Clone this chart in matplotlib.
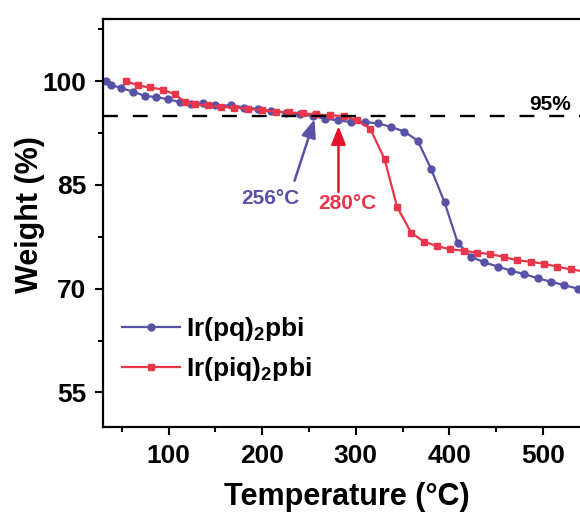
import matplotlib
matplotlib.use("Agg")
import matplotlib.pyplot as plt
from matplotlib.ticker import MultipleLocator

plt.rcParams['font.family'] = ['Liberation Sans', 'DejaVu Sans']
plt.rcParams['font.weight'] = 'bold'
plt.rcParams['mathtext.fontset'] = 'custom'
plt.rcParams['mathtext.rm'] = 'Liberation Sans:bold'
plt.rcParams['mathtext.default'] = 'rm'

# Ir(pq)2pbi
t_pq = [33.4, 38.8, 49.5, 61.9, 74.4, 86.9, 99.3, 111.8, 124.2, 136.7, 149.2, 167.0,
        181.0, 195.5, 209.7, 225.7, 240.0, 254.0, 266.7, 280.9, 295.2, 309.4, 323.6,
        337.9, 352.1, 366.3, 380.6, 394.9, 409.1, 423.4, 437.6, 451.8, 466.1, 480.3,
        494.6, 508.8, 523.0, 537.3]
w_pq = [100.0, 99.5, 99.0, 98.5, 97.9, 97.7, 97.4, 97.0, 96.7, 96.8, 96.5, 96.5,
        96.2, 96.0, 95.7, 95.45, 95.2, 95.0, 94.6, 94.35, 94.1, 94.1, 93.9,
        93.4, 92.7, 91.4, 87.3, 82.5, 76.6, 74.6, 73.8, 73.2, 72.6, 72.1,
        71.5, 71.0, 70.5, 70.0]

# Ir(piq)2pbi
t_piq = [54.8, 67.5, 80.0, 94.0, 106.5, 118.0, 128.0, 142.0, 156.0, 170.0, 185.0,
         200.0, 215.0, 229.0, 243.5, 258.0, 272.0, 288.0, 301.0, 315.5, 330.8, 344.3,
         359.3, 372.8, 387.0, 401.0, 415.5, 430.0, 444.0, 458.0, 472.5, 487.0, 501.0,
         515.0, 529.5, 543.8]
w_piq = [100.0, 99.4, 99.1, 98.8, 98.1, 97.0, 96.7, 96.5, 96.3, 96.2, 96.0,
         95.8, 95.6, 95.5, 95.35, 95.2, 95.05, 95.0, 94.35, 93.15, 88.75, 81.8,
         78.1, 76.8, 76.15, 75.7, 75.5, 75.2, 75.0, 74.6, 74.1, 73.9, 73.6,
         73.2, 72.8, 72.5]

labels = ['Ir(pq)$_2$pbi', 'Ir(piq)$_2$pbi']
blue = '#5852A6'
red = '#E8364B'

fig = plt.figure(figsize=(5.8, 5.12), dpi=100)
ax = fig.add_axes([103 / 580, 85 / 512, 486.7 / 580, 408 / 512])

ax.plot(t_pq, w_pq, '-o', color=blue, lw=1.6, ms=5, label=labels[0])
ax.plot(t_piq, w_piq, '-s', color=red, lw=1.6, ms=5, label=labels[1])
ax.axhline(95, color='black', lw=1.7, dashes=(6.3, 6.3), zorder=5)

ax.set_xlim(30, 550)
ax.set_ylim(50, 109)
ax.set_yticks([55, 70, 85, 100])
ax.set_yticks([62.5, 77.5, 92.5, 107.5], minor=True)
ax.xaxis.set_major_locator(MultipleLocator(100))
ax.xaxis.set_minor_locator(MultipleLocator(50))
ax.tick_params(which='major', length=6, width=1.5, labelsize=19, pad=6)
ax.tick_params(which='minor', length=3.5, width=1.5)
for s in ax.spines.values():
    s.set_linewidth(1.6)

ax.set_xlabel('Temperature (°C)', fontsize=22, fontweight='bold')
ax.set_ylabel('Weight (%)', fontsize=22, fontweight='bold', va='center')
ax.xaxis.set_label_coords(0.5, -0.135)
ax.yaxis.set_label_coords(-0.149, 0.52)

ax.annotate('', xy=(256, 94.5), xytext=(234.6, 85.6),
            arrowprops=dict(arrowstyle='-|>,head_length=0.55,head_width=0.22',
                            color=blue, lw=1.8, mutation_scale=20,
                            shrinkA=0, shrinkB=0))
ax.text(209, 83.0, '256°C', color=blue, fontsize=15, fontweight='bold',
        ha='center', va='center')
ax.annotate('', xy=(281.6, 93.5), xytext=(281.6, 84.0),
            arrowprops=dict(arrowstyle='-|>,head_length=0.55,head_width=0.22',
                            color='#E8102A', lw=1.8, mutation_scale=20,
                            shrinkA=0, shrinkB=0))
ax.text(291, 82.3, '280°C', color=red, fontsize=15, fontweight='bold',
        ha='center', va='center')
ax.text(508, 96.65, '95%', color='black', fontsize=15, fontweight='bold',
        ha='center', va='center')

ax.legend(loc='center left', bbox_to_anchor=(0.0384, 0.191), frameon=False,
          fontsize=19, handlelength=2.2, handletextpad=0.25, labelspacing=0.45,
          borderpad=0, borderaxespad=0, numpoints=1)

fig.savefig('out.png', dpi=100)
